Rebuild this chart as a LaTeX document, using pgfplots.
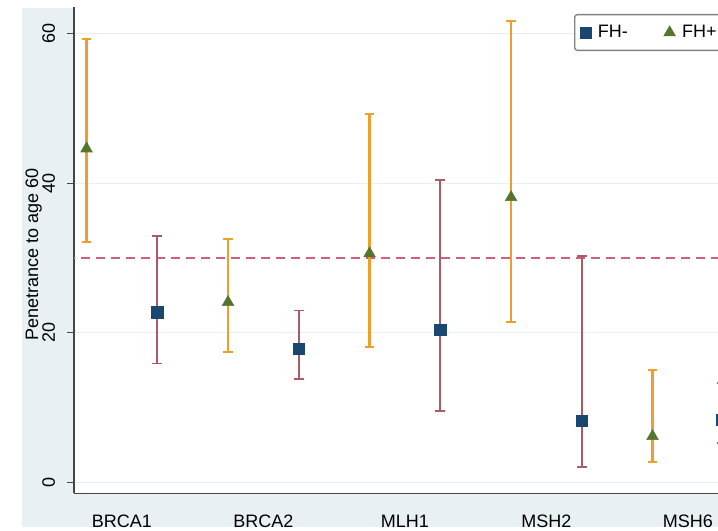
\documentclass[border=0pt]{standalone}
\usepackage{fontspec}
\setmainfont{Liberation Sans}
\usepackage{pgfplots}
\usepackage{pgfplotstable}
\pgfplotsset{compat=1.18}
\definecolor{bgblue}{RGB}{232,240,243}
\definecolor{navyc}{RGB}{26,71,111}
\definecolor{greenc}{RGB}{85,117,47}
\definecolor{maroonc}{RGB}{172,90,100}
\definecolor{orangec}{RGB}{238,158,45}
\definecolor{dashc}{RGB}{212,92,124}
\definecolor{gridc}{RGB}{232,238,243}
\definecolor{axisc}{RGB}{70,70,70}
\definecolor{legc}{RGB}{130,130,130}

\pgfplotstableread{
x y lo hi
-0.25 44.6 32.2 59.2
0.75 24.1 17.45 32.5
1.75 30.6 18.1 49.2
2.75 38.1 21.5 61.7
3.75 6.2 2.7 15.05
}\fhplus
\pgfplotstableread{
x y lo hi
0.25 22.75 15.9 32.9
1.25 17.85 13.8 23.0
2.25 20.4 9.6 40.4
3.25 8.24 2.1 30.3
4.24 8.4 5.3 13.3
}\fhminus

\begin{document}
\begin{tikzpicture}
\useasboundingbox (0pt,0pt) rectangle (538.5pt,398.25pt);
\clip (0pt,0pt) rectangle (538.5pt,398.25pt);
\fill[white] (0pt,0pt) rectangle (538.5pt,398.25pt);
\fill[bgblue] (16.5pt,3pt) rectangle (55.5pt,392.25pt);
\fill[bgblue] (16.5pt,3pt) rectangle (538.5pt,28.28pt);
\begin{axis}[
  at={(55.5pt,28.28pt)}, anchor=south west,
  scale only axis, width=508.2pt, height=364.7pt,
  xmin=-0.3385, xmax=4.45, ymin=-1.415, ymax=63.51,
  axis x line*=bottom, axis y line*=left,
  axis line style={draw=axisc, line width=1.1pt},
  xtick={0,1,2,3,4}, xticklabels={BRCA1,BRCA2,MLH1,MSH2,MSH6},
  ytick={0,20,40,60},
  tick align=outside, major tick length=5.25pt,
  tick style={draw=axisc, line width=0.8pt},
  xtick style={draw=none},
  ymajorgrids, grid style={draw=gridc, line width=0.8pt},
  tick label style={font=\fontsize{13.5}{16}\selectfont},
  /pgf/number format/assume math mode=true,
  xticklabel style={anchor=base, yshift=-20.25pt},
  yticklabel style={xshift=-9pt, rotate=90, anchor=base},
  ylabel={Penetrance to age 60},
  every axis y label/.style={at={(rel axis cs:-0.0531,0.492)}, rotate=90, anchor=base, font=\fontsize{13.5}{16}\selectfont},
  legend style={at={(axis cs:3.195,62.58)}, anchor=north west, draw=legc, line width=1pt, rounded corners=2pt, fill=white, font=\fontsize{13.5}{16}\selectfont, inner xsep=4pt, inner ysep=6pt},
  legend cell align=left,
  legend columns=2,
  legend image code/.code={\draw[sharp corners, line width=0.4pt, #1] plot coordinates {(0pt,0pt)};},
  /tikz/every even column/.append style={column sep=25pt},
  /tikz/every odd column/.append style={column sep=3pt},
]
\addplot[forget plot, dashc, dash pattern=on 6.75pt off 4.5pt, line width=1.5pt] coordinates {(-0.5,30) (4.6,30)};
\addplot[forget plot, draw=none, mark=none,
  error bars/.cd, y dir=both, y explicit,
  error bar style={draw=orangec, line width=1.6pt, solid}]
  table[x=x, y=y, y error plus expr=\thisrow{hi}-\thisrow{y}, y error minus expr=\thisrow{y}-\thisrow{lo}] {\fhplus};
\addplot[forget plot, only marks, mark=-, mark size=3.6pt, orangec, mark options={line width=1.5pt}] table[x=x, y=hi] {\fhplus};
\addplot[forget plot, only marks, mark=-, mark size=3.6pt, orangec, mark options={line width=1.5pt}] table[x=x, y=lo] {\fhplus};
\addplot[forget plot, draw=none, mark=none,
  error bars/.cd, y dir=both, y explicit,
  error bar style={draw=maroonc, line width=1.4pt, solid}]
  table[x=x, y=y, y error plus expr=\thisrow{hi}-\thisrow{y}, y error minus expr=\thisrow{y}-\thisrow{lo}] {\fhminus};
\addplot[forget plot, only marks, mark=-, mark size=3.6pt, maroonc, mark options={line width=1.3pt}] table[x=x, y=hi] {\fhminus};
\addplot[forget plot, only marks, mark=-, mark size=3.6pt, maroonc, mark options={line width=1.3pt}] table[x=x, y=lo] {\fhminus};
\addplot[only marks, color=navyc, mark=square*, mark size=4.2pt, mark options={fill=navyc, draw=navyc}] table[x=x, y=y] {\fhminus};
\addlegendentry{FH-}
\addplot[only marks, color=greenc, mark=triangle*, mark size=5pt, mark options={fill=greenc, draw=greenc}] table[x=x, y=y] {\fhplus};
\addlegendentry{FH+}
\end{axis}
\end{tikzpicture}
\end{document}
